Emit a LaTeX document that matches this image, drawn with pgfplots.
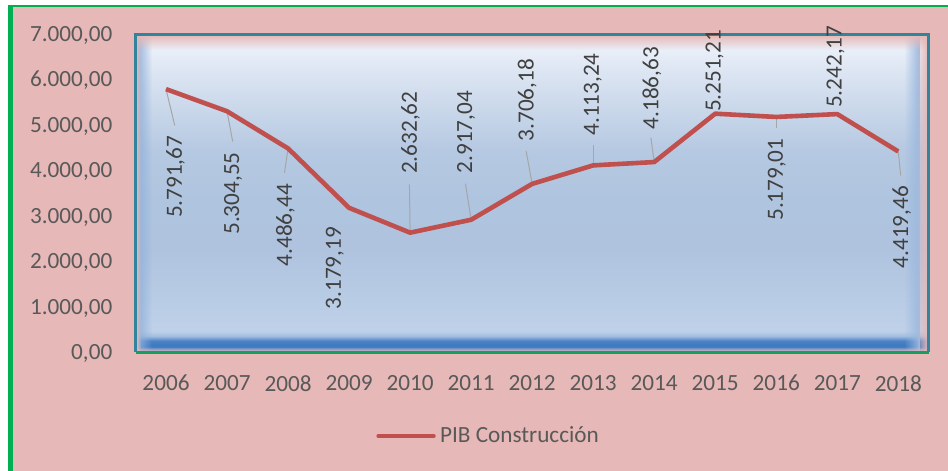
\documentclass[border=0pt]{standalone}
\usepackage{fontspec}
\setmainfont{Carlito}
\usepackage{pgfplots}
\usepackage{pgfplotstable}
\pgfplotsset{compat=1.18}
\usetikzlibrary{fadings}

\definecolor{bgpink}{HTML}{E6B8B7}
\definecolor{framegreen}{HTML}{00B050}
\definecolor{axteal}{HTML}{31849B}
\definecolor{axgreen}{HTML}{14A05C}
\definecolor{linered}{HTML}{C0504D}
\definecolor{ticktext}{HTML}{595959}
\definecolor{labtext}{HTML}{404040}
\definecolor{leader}{HTML}{A6A6A6}
\definecolor{leftblue}{HTML}{8FB1DB}
\definecolor{rightblue}{HTML}{9AB8DE}

% plot area gradient (bottom -> top)
\definecolor{sa}{HTML}{6E98CF}
\definecolor{sb}{HTML}{3C79C0}
\definecolor{sc}{HTML}{4A82C4}
\definecolor{sd}{HTML}{A5BFE2}
\definecolor{se}{HTML}{BFD1E9}
\definecolor{sf}{HTML}{B9CCE5}
\definecolor{sg}{HTML}{AFC3DF}
\definecolor{sh}{HTML}{AFC4DF}
\definecolor{si}{HTML}{B6C9E2}
\definecolor{sj}{HTML}{C9D7EA}
\definecolor{sk}{HTML}{DDE6F3}
\definecolor{sl}{HTML}{E9EFF8}
\definecolor{sm}{HTML}{EEF2F9}
\pgfdeclareverticalshading{plotbg}{100bp}{color(0bp)=(sa); color(25bp)=(sa);
  color(25.8bp)=(sb); color(26.6bp)=(sc); color(27.4bp)=(sd); color(28.2bp)=(se);
  color(33.1bp)=(sf); color(41bp)=(sg); color(48.9bp)=(sh); color(56.8bp)=(si);
  color(63.1bp)=(sj); color(69.5bp)=(sk); color(72.6bp)=(sl); color(75bp)=(sm);
  color(100bp)=(sm)}

\tikzfading[name=fadedown, top color=transparent!0, bottom color=transparent!100]
\tikzfading[name=fadeup, top color=transparent!100, bottom color=transparent!0]
\tikzfading[name=faderight, left color=transparent!0, right color=transparent!100]
\tikzfading[name=fadeleft, left color=transparent!100, right color=transparent!0]

\newcommand\chartfont{\fontsize{11.6}{13.9}\selectfont}

% x = year index (2006 = 0), label offsets dx/dy in pt
\pgfplotstableread{
x y lab dx dy
0 5791.67 5.791,67 4.75 -43.85
1 5304.55 5.304,55 3.0 -41.15
2 4486.44 4.486,44 -1.3 -38.35
3 3179.19 3.179,19 -7.15 -30.15
4 2632.62 2.632,62 0.15 50.0
5 2917.04 2.917,04 -2.5 43.8
6 3706.18 3.706,18 -2.5 41.85
7 4113.24 4.113,24 -0.2 35.5
8 4186.63 4.186,63 -1.15 37.0
9 5251.21 5.251,21 -0.35 21.4
10 5179.01 5.179,01 0.35 -31.35
11 5242.17 5.242,17 -0.85 23.65
12 4419.46 4.419,46 1.7 -37.85
}\pib

% leader lines: from point by (u,v) in axis units
\pgfplotstableread{
x y u v
0 5791.67 0.143 -800
1 5304.55 0.093 -666
2 4486.44 -0.059 -537
4 2632.62 -0.011 1064
5 2917.04 -0.093 792
6 3706.18 -0.098 719
7 4113.24 0 440
8 4186.63 -0.054 537
10 5179.01 0 -242
12 4419.46 0.039 -528
}\leaders

\begin{document}
\begin{tikzpicture}
\fill[white] (0,0) rectangle (474pt,235.5pt);
\path[use as bounding box] (0,0) rectangle (474pt,235.5pt);
\fill[bgpink] (5.4pt,0) rectangle (474pt,232.4pt);
\draw[framegreen, line width=2.5pt] (5.4pt,-1pt) -- (5.4pt,233pt);
\draw[framegreen, line width=1.2pt] (4.2pt,232.4pt) -- (475pt,232.4pt);

% soft plot-area background
\shade[shading=plotbg] (68pt,60pt) rectangle (464pt,218pt);
\fill[leftblue, path fading=faderight] (68pt,60pt) rectangle (76pt,218pt);
\fill[rightblue, path fading=fadeleft] (452pt,60pt) rectangle (460pt,218pt);
\fill[bgpink, path fading=fadedown] (68pt,210.5pt) rectangle (464pt,218pt);
\fill[bgpink, path fading=fadeleft] (458pt,60pt) rectangle (464pt,218pt);
\fill[bgpink, path fading=faderight] (68pt,60pt) rectangle (70.5pt,218pt);
\fill[bgpink, path fading=fadeup] (68pt,59.5pt) rectangle (464pt,62pt);

% plot-area frame (under the labels)
\draw[axteal, line width=1.35pt] (67.75pt,59.35pt) -- (67.75pt,218.4pt)
    -- (464.4pt,218.4pt) -- (464.4pt,59.35pt);
\draw[axgreen, line width=1.35pt] (67.75pt,59.35pt) -- (464.4pt,59.35pt);

\begin{axis}[
    at={(67.75pt,59.35pt)}, anchor=south west,
    scale only axis, width=396.65pt, height=159.05pt,
    xmin=-0.5, xmax=12.5, ymin=0, ymax=7000,
    xtick={0,1,2,3,4,5,6,7,8,9,10,11,12},
    xticklabels={2006,2007,2008,2009,2010,2011,2012,2013,2014,2015,2016,2017,2018},
    ytick={0,1000,2000,3000,4000,5000,6000,7000},
    major tick length=0pt,
    axis line style={draw=none},
    tick label style={font=\chartfont, text=ticktext},
    xticklabel style={anchor=north, inner sep=0pt, yshift=-11.3pt},
    yticklabel style={anchor=base east, inner sep=0pt, xshift=-11.4pt, yshift=-3.6pt,
        /pgf/number format/fixed, /pgf/number format/fixed zerofill,
        /pgf/number format/precision=2, /pgf/number format/1000 sep={.},
        /pgf/number format/use comma, /pgf/number format/assume math mode=true},
    clip=false,
    legend style={draw=none, fill=none, inner sep=0pt, nodes={inner sep=0pt},
        column sep=2.2pt, font=\chartfont, text=ticktext,
        at={(axis description cs:0.3032,-0.263)}, anchor=west},
    legend image code/.code={\draw[#1, line width=1.75pt, line cap=round] (0pt,0pt) -- (27.9pt,0pt);},
]
\addplot[leader, line width=0.5pt, forget plot,
    quiver={u=\thisrow{u}, v=\thisrow{v}}] table[x=x, y=y] {\leaders};
\addplot[linered, line width=2.3pt, line join=round] table[x=x, y=y] {\pib};
\addlegendentry{PIB Construcción}
\addplot[draw=none, forget plot, point meta=explicit symbolic,
    visualization depends on={\thisrow{dx} \as \ldx},
    visualization depends on={\thisrow{dy} \as \ldy},
    nodes near coords,
    every node near coord/.append style={anchor=center, inner sep=0pt,
        xshift=\ldx pt, yshift=\ldy pt, rotate=90, font=\chartfont, text=labtext}]
    table[x=x, y=y, meta=lab] {\pib};
\end{axis}
\end{tikzpicture}
\end{document}
